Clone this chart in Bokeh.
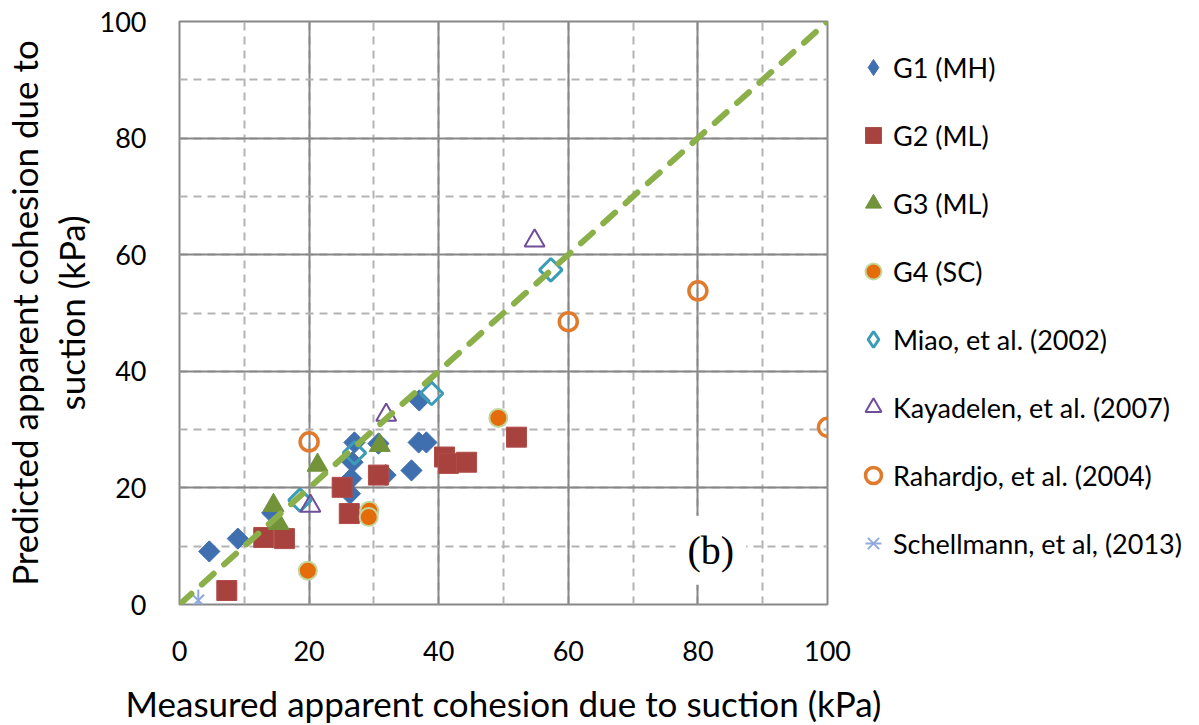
import numpy as np
from bokeh.plotting import figure
from bokeh.models import Range1d, SingleIntervalTicker, Legend, LegendItem, Label
from bokeh.embed import file_html
from bokeh.resources import INLINE

# Measured vs predicted apparent cohesion due to suction (kPa)
g1_x = [4.6, 9.0, 14.3, 27.0, 26.7, 26.5, 26.3, 30.7, 31.8, 35.8, 37.0, 36.9, 38.1]
g1_y = [9.1, 11.3, 15.7, 27.8, 24.4, 21.6, 19.0, 27.6, 22.2, 23.0, 35.0, 27.8, 27.8]

g2_x = [7.3, 13.0, 16.2, 25.1, 26.2, 30.7, 40.9, 41.5, 44.3, 52.0]
g2_y = [2.4, 11.5, 11.3, 20.1, 15.6, 22.2, 25.3, 24.2, 24.4, 28.7]

g3_x = [14.5, 15.3, 21.3, 30.9]
g3_y = [17.0, 13.9, 23.9, 27.3]

g4_x = [19.8, 29.3, 29.2, 49.2]
g4_y = [5.8, 16.1, 15.0, 32.0]

miao_x = [18.6, 27.0, 38.9, 57.3]
miao_y = [17.9, 26.0, 36.2, 57.4]

kay_x = [20.2, 31.9, 54.8]
kay_y = [16.9, 32.5, 62.4]

rah_x = [20.0, 60.0, 80.0, 100.0]
rah_y = [27.9, 48.5, 53.8, 30.4]

sch_x = [2.9]
sch_y = [0.7]

# 1:1 reference line
line_x = [0, 100]
line_y = [0, 100]

FONT = "Lato"
GRID = "#878787"
MINOR = "#B3B3B3"

BLUE = "#3F6FAE"
TEAL = "#3A9CB6"
STAR = "#8FAADC"

p = figure(frame_width=648, frame_height=583, output_backend="svg",
           toolbar_location=None,
           x_range=Range1d(0, 100), y_range=Range1d(0, 100),
           min_border_left=178, min_border_right=373,
           min_border_top=21, min_border_bottom=121)

p.background_fill_color = "white"
p.border_fill_color = "white"
p.outline_line_color = GRID
p.outline_line_width = 2

for ax in (p.xaxis[0], p.yaxis[0]):
    ax.ticker = SingleIntervalTicker(interval=20, num_minor_ticks=2)
    ax.axis_line_color = None
    ax.major_tick_line_color = None
    ax.minor_tick_line_color = None
    ax.major_label_text_font = FONT
    ax.major_label_text_font_size = "27px"
    ax.major_label_text_color = "black"
    ax.axis_label_text_font = FONT
    ax.axis_label_text_font_size = "35px"
    ax.axis_label_text_font_style = "normal"
    ax.axis_label_text_color = "black"
    ax.axis_label_text_line_height = 1.1

p.xaxis.major_label_standoff = 30
p.yaxis.major_label_standoff = 27
p.xaxis.axis_label = "Measured apparent cohesion due to suction (kPa)"
p.yaxis.axis_label = "Predicted apparent cohesion due to\nsuction (kPa)"
p.xaxis.axis_label_standoff = 18
p.yaxis.axis_label_standoff = 5

for g in (p.xgrid[0], p.ygrid[0]):
    g.grid_line_color = GRID
    g.grid_line_width = 2
    g.minor_grid_line_color = MINOR
    g.minor_grid_line_width = 2
    g.minor_grid_line_dash = "8 6"

ang = np.pi / 4

r_g1 = p.scatter(g1_x, g1_y, marker="square", angle=ang, size=15,
                 fill_color=BLUE, line_color=BLUE)
r_g2 = p.scatter(g2_x, g2_y, marker="square", size=20,
                 fill_color="#A8423F", line_color="#B04C49", line_width=1)
r_g3 = p.scatter(g3_x, g3_y, marker="triangle", size=21,
                 fill_color="#72933A", line_color="#72933A")
r_g4 = p.scatter(g4_x, g4_y, marker="circle", size=18,
                 fill_color="#E46C0A", line_color="#C3D69B", line_width=2)
r_miao = p.scatter(miao_x, miao_y, marker="square", angle=ang, size=16,
                   fill_color=None, line_color=TEAL, line_width=3)
r_kay = p.scatter(kay_x, kay_y, marker="triangle", size=20,
                  fill_color=None, line_color="#6E4E98", line_width=2)
r_rah = p.scatter(rah_x, rah_y, marker="circle", size=18,
                  fill_color=None, line_color="#E07B2E", line_width=3.5)
r_sch_x = p.scatter(sch_x, sch_y, marker="x", size=16,
                    line_color=STAR, line_width=2)
r_sch_v = p.scatter(sch_x, sch_y, marker="dash", angle=np.pi / 2, size=22,
                    line_color=STAR, line_width=2)

p.line(line_x, line_y, line_color="#8BB04A", line_width=6,
       line_dash="16 14", line_cap="round")

# legend swatches for the diamond series (a single NaN point, key only)
k_g1 = p.scatter([np.nan], [np.nan], marker="diamond",
                 fill_color=BLUE, line_color=BLUE)
k_miao = p.scatter([np.nan], [np.nan], marker="diamond", fill_color=None,
                   line_color=TEAL, line_width=3)

tag = Label(x=82.0, y=9.3, text="(b)", text_font="Liberation Serif",
            text_font_size="40px", text_color="black",
            text_align="center", text_baseline="middle",
            background_fill_color="white", padding=12)
p.add_layout(tag)

legend = Legend(items=[
    LegendItem(label="G1 (MH)", renderers=[k_g1]),
    LegendItem(label="G2 (ML)", renderers=[r_g2]),
    LegendItem(label="G3 (ML)", renderers=[r_g3]),
    LegendItem(label="G4 (SC)", renderers=[r_g4]),
    LegendItem(label="Miao, et al. (2002)", renderers=[k_miao]),
    LegendItem(label="Kayadelen, et al. (2007)", renderers=[r_kay]),
    LegendItem(label="Rahardjo, et al. (2004)", renderers=[r_rah]),
    LegendItem(label="Schellmann, et al, (2013)", renderers=[r_sch_x, r_sch_v]),
], location="top_left")
legend.border_line_color = None
legend.background_fill_alpha = 0
legend.margin = 26
legend.padding = 0
legend.glyph_width = 40
legend.glyph_height = 40
legend.label_height = 40
legend.spacing = 28
legend.label_standoff = 0
legend.label_text_font = FONT
legend.label_text_font_size = "27px"
legend.label_text_color = "black"
p.add_layout(legend, "right")

open("out.html", "w").write(file_html(p, INLINE))
